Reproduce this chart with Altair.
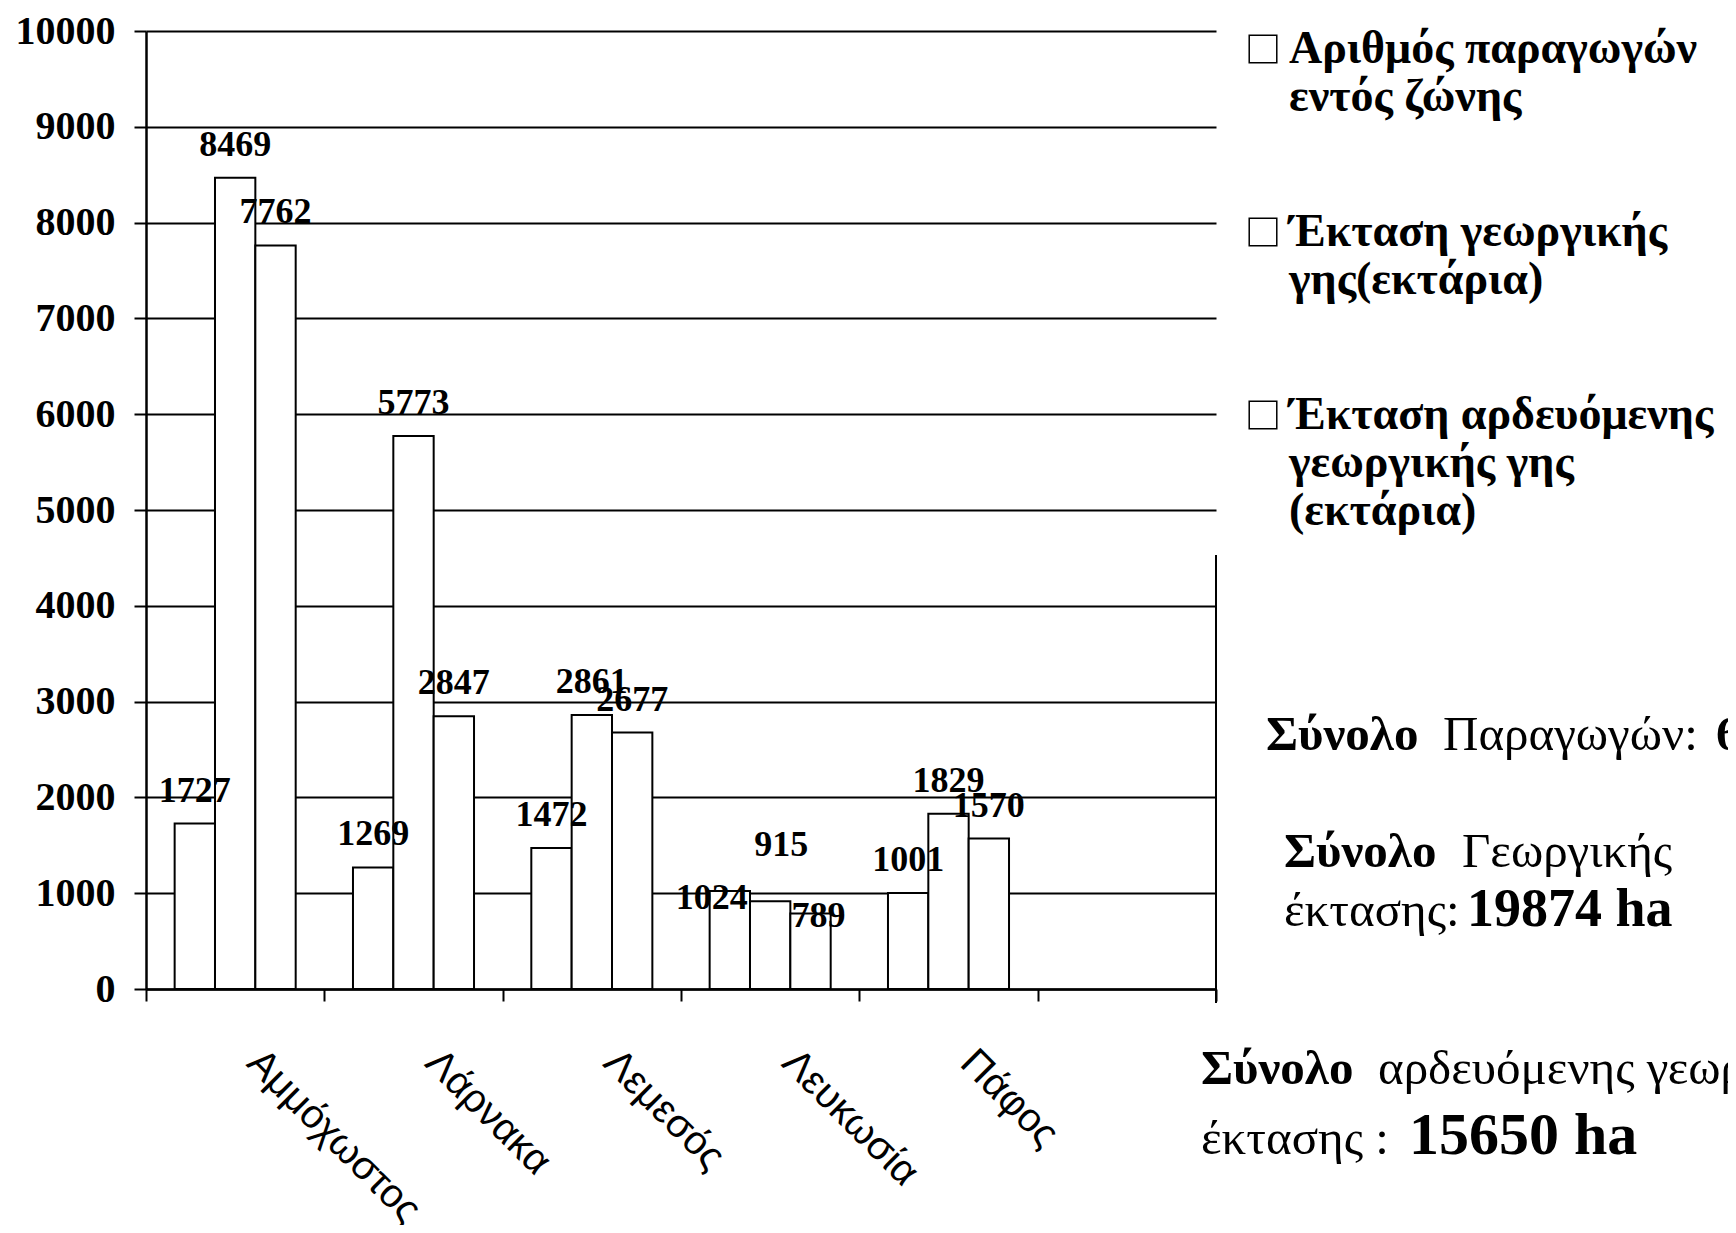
import altair as alt
import pandas as pd

# ---------------- data ----------------
regions = ["Αμμόχωστος", "Λάρνακα", "Λεμεσός", "Λευκωσία", "Πάφος"]
x_domain = regions + [" "]
series = [
    "Αριθμός παραγωγών\nεντός ζώνης",
    "Έκταση  γεωργικής\nγης(εκτάρια)",
    "Έκταση αρδευόμενης\nγεωργικής γης\n(εκτάρια)",
]
producers = [1727, 1269, 1472, 1024, 1001]
farm_land = [8469, 5773, 2861, 915, 1829]
irrigated_land = [7762, 2847, 2677, 789, 1570]
y_ticks = [0, 1000, 2000, 3000, 4000, 5000, 6000, 7000, 8000, 9000, 10000]

# annotation texts (right-hand side)
note_total_producers = ["Σύνολο", "Παραγωγών:", "6493"]
note_total_land = ["Σύνολο", "Γεωργικής", "έκτασης:", "19874 ha"]
note_total_irrigated = ["Σύνολο", "αρδευόμενης γεωργικής", "έκτασης :", "15650 ha"]

rows = []
for i, r in enumerate(regions):
    for sid, vals in enumerate([producers, farm_land, irrigated_land]):
        rows.append({"region": r, "series": series[sid], "sid": sid,
                     "key": f"{r}|{sid}", "value": vals[i]})
df = pd.DataFrame(rows)

# ---------------- style ----------------
SERIF = "Liberation Serif"
SANS = "Liberation Sans"
W, H = 1070, 958

# manual label nudges (pixels) for overlapping labels, as in the original
nudges = {
    "Λευκωσία|0": (-18, 18),
    "Λευκωσία|1": (11, -45),
    "Λευκωσία|2": (8, 14),
}

x_scale = alt.Scale(domain=x_domain, paddingInner=0, paddingOuter=0)
x_enc = alt.X(
    "region:N",
    scale=x_scale,
    axis=alt.Axis(
        title=None, labelAngle=45, labelAlign="left", labelBaseline="middle",
        labelFont=SANS, labelFontSize=40, labelColor="black",
        labelPadding=55, labelOffset=18, labelLimit=1000,
        tickBand="extent", tickSize=12, tickColor="black", tickWidth=2,
        domainColor="black", domainWidth=2.5, grid=False,
    ),
)
xoff_enc = alt.XOffset(
    "series:N",
    scale=alt.Scale(domain=series, paddingInner=0, paddingOuter=0.71),
)
y_enc = alt.Y(
    "value:Q",
    scale=alt.Scale(domain=[0, 10000], nice=False, zero=True),
    axis=alt.Axis(
        title=None, values=y_ticks, format="d",
        labelFont=SERIF, labelFontSize=40, labelFontWeight="bold",
        labelColor="black", labelPadding=19,
        tickSize=12, tickColor="black", tickWidth=2,
        domainColor="black", domainWidth=2.5,
        grid=True, gridColor="black", gridWidth=2, gridOpacity=1,
    ),
)

base = alt.Chart(df)

bars = base.mark_bar(stroke="black", strokeWidth=2).encode(
    x=x_enc, xOffset=xoff_enc, y=y_enc,
    color=alt.Color(
        "series:N",
        scale=alt.Scale(domain=series, range=["white", "white", "white"]),
        legend=alt.Legend(
            title=None, orient="none", legendX=1094, legendY=-5, padding=0,
            symbolType="square", symbolSize=760,
            symbolStrokeColor="black", symbolStrokeWidth=1.5,
            symbolFillColor="white",
            labelFont=SERIF, labelFontSize=46, labelFontWeight="bold",
            labelColor="black", labelBaseline="middle", labelOffset=3,
            labelLimit=2000, labelExpr="split(datum.label, '\\n')",
            rowPadding=89,
        ),
    ),
)

label_style = dict(font=SERIF, fontSize=36, fontWeight="bold",
                   baseline="alphabetic", align="center", color="black")

keys_nudged = list(nudges.keys())
main_filter = " && ".join([f"datum.key != '{k}'" for k in keys_nudged])
labels = base.transform_filter(main_filter).mark_text(dy=-22, **label_style).encode(
    x=alt.X("region:N", scale=x_scale),
    xOffset=xoff_enc, y=alt.Y("value:Q"), text="value:Q",
)
nudged_layers = []
for k, (ddx, ddy) in nudges.items():
    nudged_layers.append(
        base.transform_filter(f"datum.key == '{k}'").mark_text(dx=ddx, dy=ddy, **label_style).encode(
            x=alt.X("region:N"), xOffset=xoff_enc, y=alt.Y("value:Q"), text="value:Q",
        )
    )

# partial right frame line (visible below the legend box)
frame = alt.Chart(pd.DataFrame({"v": [0]})).mark_rule(color="black", strokeWidth=2).encode(
    x=alt.value(W), y=alt.value(524), y2=alt.value(972),
)


def note(text, x, y, size, weight):
    return alt.Chart(pd.DataFrame({"t": [text]})).mark_text(
        align="left", baseline="alphabetic", font=SERIF, fontSize=size,
        fontWeight=weight, color="black",
    ).encode(x=alt.value(x), y=alt.value(y), text="t:N")


notes = [
    note(note_total_producers[0], 1120, 719, 49, "bold"),
    note(note_total_producers[1], 1297, 719, 49, "normal"),
    note(note_total_producers[2], 1570, 719, 49, "bold"),
    note(note_total_land[0], 1138, 836, 49, "bold"),
    note(note_total_land[1], 1316, 836, 49, "normal"),
    note(note_total_land[2], 1138, 895, 49, "normal"),
    note(note_total_land[3], 1321, 895, 54, "bold"),
    note(note_total_irrigated[0], 1055, 1053, 49, "bold"),
    note(note_total_irrigated[1], 1232, 1053, 49, "normal"),
    note(note_total_irrigated[2], 1055, 1123, 49, "normal"),
    note(note_total_irrigated[3], 1263, 1123, 60, "bold"),
]

chart = alt.layer(bars, labels, *nudged_layers, frame, *notes).properties(
    width=W, height=H,
    padding={"left": 138, "top": 23, "right": 512, "bottom": 236},
    autosize=alt.AutoSizeParams(type="none"),
    background="white",
).configure_view(strokeWidth=0)

chart.save("out.html", embed_options={"renderer": "svg", "actions": False})
